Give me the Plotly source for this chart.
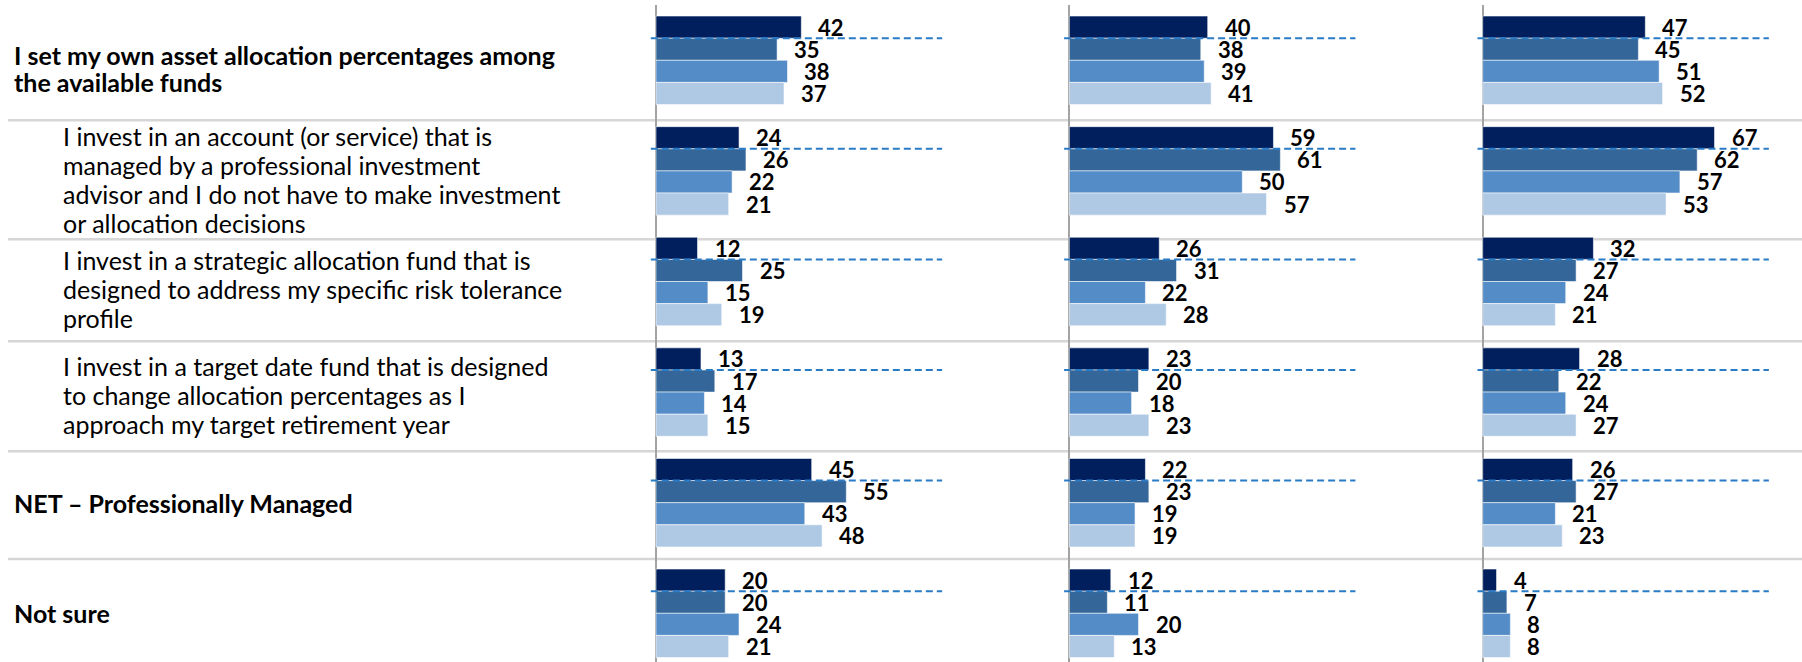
import plotly.graph_objects as go

# Rows (top to bottom) and their left-hand labels
row_labels = [
    "I set my own asset allocation percentages among|the available funds",
    "I invest in an account (or service) that is|managed by a professional investment|advisor and I do not have to make investment|or allocation decisions",
    "I invest in a strategic allocation fund that is|designed to address my specific risk tolerance|profile",
    "I invest in a target date fund that is designed|to change allocation percentages as I|approach my target retirement year",
    "NET \u2013 Professionally Managed",
    "Not sure",
]
row_bold = [True, False, False, False, True, True]

# Values per panel: one list per series, ordered by row
panel1_values = [
    [42, 24, 12, 13, 45, 20],
    [35, 26, 25, 17, 55, 20],
    [38, 22, 15, 14, 43, 24],
    [37, 21, 19, 15, 48, 21],
]
panel2_values = [
    [40, 59, 26, 23, 22, 12],
    [38, 61, 31, 20, 23, 11],
    [39, 50, 22, 18, 19, 20],
    [41, 57, 28, 23, 19, 13],
]
panel3_values = [
    [47, 67, 32, 28, 26, 4],
    [45, 62, 27, 22, 27, 7],
    [51, 57, 24, 24, 21, 8],
    [52, 53, 21, 27, 23, 8],
]
series_colors = ["#001f5c", "#346699", "#548cc8", "#afc9e4"]

W, H = 1802, 662
FONT = "Lato, 'Open Sans', sans-serif"
y_pos = list(range(len(row_labels)))
n_series = len(series_colors)
bar_w = 0.8 / n_series

# Panel placement (pixels): zero line of each panel and scale
zero_px = [656, 1069.3, 1482.7]
px_per_unit = 3.46
x_range = [-2, 88]
panel_width = (x_range[1] - x_range[0]) * px_per_unit

fig = go.Figure()
panels = [panel1_values, panel2_values, panel3_values]
axis_ids = ["x", "x2", "x3"]
annotations = []
shapes = []

for p, (vals, ax) in enumerate(zip(panels, axis_ids)):
    for k, series in enumerate(vals):
        fig.add_trace(go.Bar(
            x=series, y=y_pos, orientation="h",
            xaxis=ax, yaxis="y",
            marker=dict(color=series_colors[k],
                        line=dict(color="rgba(255,255,255,0.55)", width=1)),
            showlegend=False, hoverinfo="x",
        ))
        for i, v in enumerate(series):
            annotations.append(dict(
                x=v, y=i + (k - (n_series - 1) / 2) * bar_w,
                xref=ax, yref="y", text=f"<b>{v}</b>",
                showarrow=False, xanchor="left", yanchor="middle",
                xshift=15, font=dict(family=FONT, size=22, color="#000000"),
            ))
    # dashed reference line between the first and second bar of each row
    for i in y_pos:
        yy = i - (n_series / 2 - 1) * bar_w
        shapes.append(dict(
            type="line", xref=ax, yref="y",
            x0=-1.5, x1=82.7, y0=yy, y1=yy,
            line=dict(color="#2a7bc6", width=2, dash="7px,4px"), layer="above",
        ))

# Row separator lines of the label table
separator_y = [0.543, 1.618, 2.540, 3.535, 4.510]
for sy in separator_y:
    shapes.append(dict(
        type="line", xref="paper", yref="y", x0=8 / W, x1=1, y0=sy, y1=sy,
        line=dict(color="#d6d6d6", width=2.5), layer="below",
    ))

# Left-hand row labels, one annotation per text line
label_center_shift = [8, 8.5, 7.5, 3, 0.5, 0]
for i, (txt, bold) in enumerate(zip(row_labels, row_bold)):
    lines = txt.split("|")
    n = len(lines)
    spacing = 26.7 if bold else 29.2
    x_px = 12 if bold else 61
    for j, line in enumerate(lines):
        off = label_center_shift[i] + (j - (n - 1) / 2) * spacing
        annotations.append(dict(
            x=x_px / W, y=i, xref="paper", yref="y",
            text=f"<b>{line}</b>" if bold else line,
            showarrow=False, xanchor="left", yanchor="middle",
            yshift=-off, font=dict(family=FONT, size=25, color="#000000"),
        ))

layout_axes = {}
for p, ax in enumerate(axis_ids):
    left = zero_px[p] + x_range[0] * px_per_unit
    name = "xaxis" if ax == "x" else f"xaxis{ax[1:]}"
    layout_axes[name] = dict(
        domain=[left / W, (left + panel_width) / W], range=x_range,
        anchor="y", showticklabels=False, showgrid=False, ticks="",
        zeroline=True, zerolinecolor="#a3a3a3", zerolinewidth=2,
        showline=False, fixedrange=True,
    )

top_px = 5
fig.update_layout(
    width=W, height=H,
    margin=dict(l=0, r=0, t=top_px, b=0),
    paper_bgcolor="white", plot_bgcolor="white",
    barmode="group", bargap=0.2, bargroupgap=0,
    yaxis=dict(domain=[0, 1], range=[-0.5 + (H - top_px) / 110.6, -0.5],
               showticklabels=False, showgrid=False, zeroline=False,
               ticks="", fixedrange=True),
    annotations=annotations, shapes=shapes,
    font=dict(family=FONT),
    **layout_axes,
)

fig.write_html("out.html")
